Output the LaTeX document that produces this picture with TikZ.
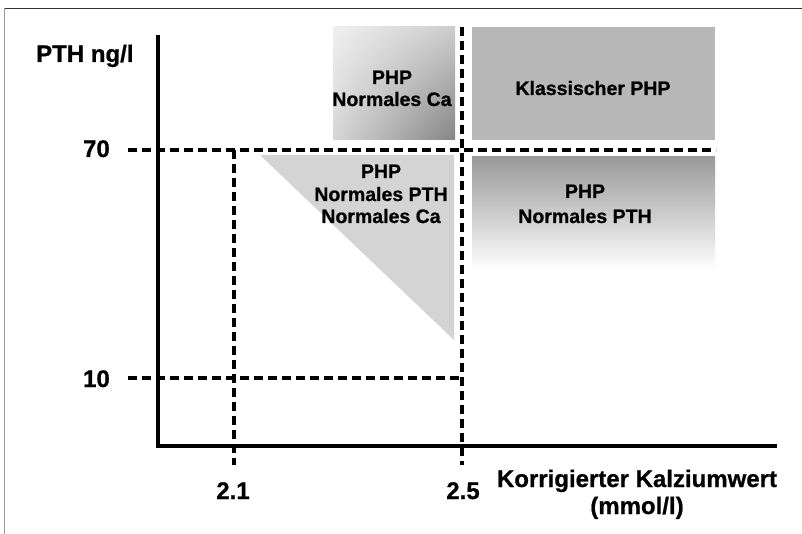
\documentclass[tikz,border=0pt]{standalone}
\usepackage{fontspec}
\setmainfont{Liberation Sans}[BoldFeatures={FakeBold=0.8}]
\usetikzlibrary{shadings}
\definecolor{frameL}{HTML}{999999}
\definecolor{frameT}{HTML}{333333}
\definecolor{triFill}{HTML}{D4D4D4}
\definecolor{klassFill}{HTML}{B8B8B8}
\definecolor{darkShade}{HTML}{999999}
\tikzset{
  axisline/.style={line width=3.3pt, black},
  dashline/.style={line width=3.7pt, black, dash pattern=on 9pt off 5pt},
  inlbl/.style={font=\fontsize{19.5}{22}\selectfont\bfseries, anchor=base, inner sep=0pt},
  axlbl/.style={font=\fontsize{24}{28}\selectfont\bfseries, inner sep=0pt},
}
\begin{document}
\begin{tikzpicture}[x=1pt,y=-1pt]
\useasboundingbox[fill=white] (0,0) rectangle (802,534);
% frame
\draw[frameT, line width=1.3pt] (4.5,8.3) -- (802,8.3);
\draw[frameL, line width=1.5pt] (4.5,8.3) -- (4.5,534);
% regions
\shade[upper left=white!94!black, upper right=white!80!black,
       lower left=white!84!black, lower right=white!52!black]
  (333,27) rectangle (455,140);
\fill[klassFill] (472,27) rectangle (715,140);
\shade[top color=darkShade, bottom color=white] (472,157) rectangle (715,270);
\fill[triFill] (260,155) -- (454,155) -- (454,340) -- cycle;
% region labels
\node[inlbl] (ca1) at (392,84) {PHP};
\node[inlbl] (ca2) at (392,106) {Normales Ca};
\node[inlbl] (kl) at (593,95) {Klassischer PHP};
\node[inlbl] (pt1) at (585,198) {PHP};
\node[inlbl] (pt2) at (585,223) {Normales PTH};
\node[inlbl] (tr1) at (381,178) {PHP};
\node[inlbl] (tr2) at (381,201) {Normales PTH};
\node[inlbl] (tr3) at (381,223) {Normales Ca};
% coordinates for the guide lines
\coordinate (h70a) at (128,150);
\coordinate (h70b) at (716,150);
\coordinate (h10a) at (128,378);
\coordinate (h10b) at (462,378);
\coordinate (v21a) at (234,150);
\coordinate (v21b) at (234,465);
\coordinate (v25a) at (462,27);
\coordinate (v25b) at (462,465);
\coordinate (ytop) at (158,35);
\coordinate (orig) at (158,446);
\coordinate (xend) at (777,446);
% dashed guides
\draw[dashline] (h70a) -- (h70b);
\draw[dashline] (v21a) -- (v21b);
\draw[dashline] (v25a) -- (v25b);
\draw[dashline] (h10a) -- (h10b);
% axes
\draw[axisline] (ytop) -- (orig) -- (xend);
% axis labels
\node[axlbl, anchor=base west] (ylab) at (36,62) {PTH ng/l};
\node[axlbl, anchor=base east] (l70) at (110,157) {70};
\node[axlbl, anchor=base east] (l10) at (110,387) {10};
\node[axlbl, anchor=base] (l21) at (233,499) {2.1};
\node[axlbl, anchor=base] (l25) at (463,499) {2.5};
\node[axlbl, anchor=base] (xlab1) at (637,487) {Korrigierter Kalziumwert};
\node[axlbl, anchor=base] (xlab2) at (637,514) {(mmol/l)};
\end{tikzpicture}
\end{document}
